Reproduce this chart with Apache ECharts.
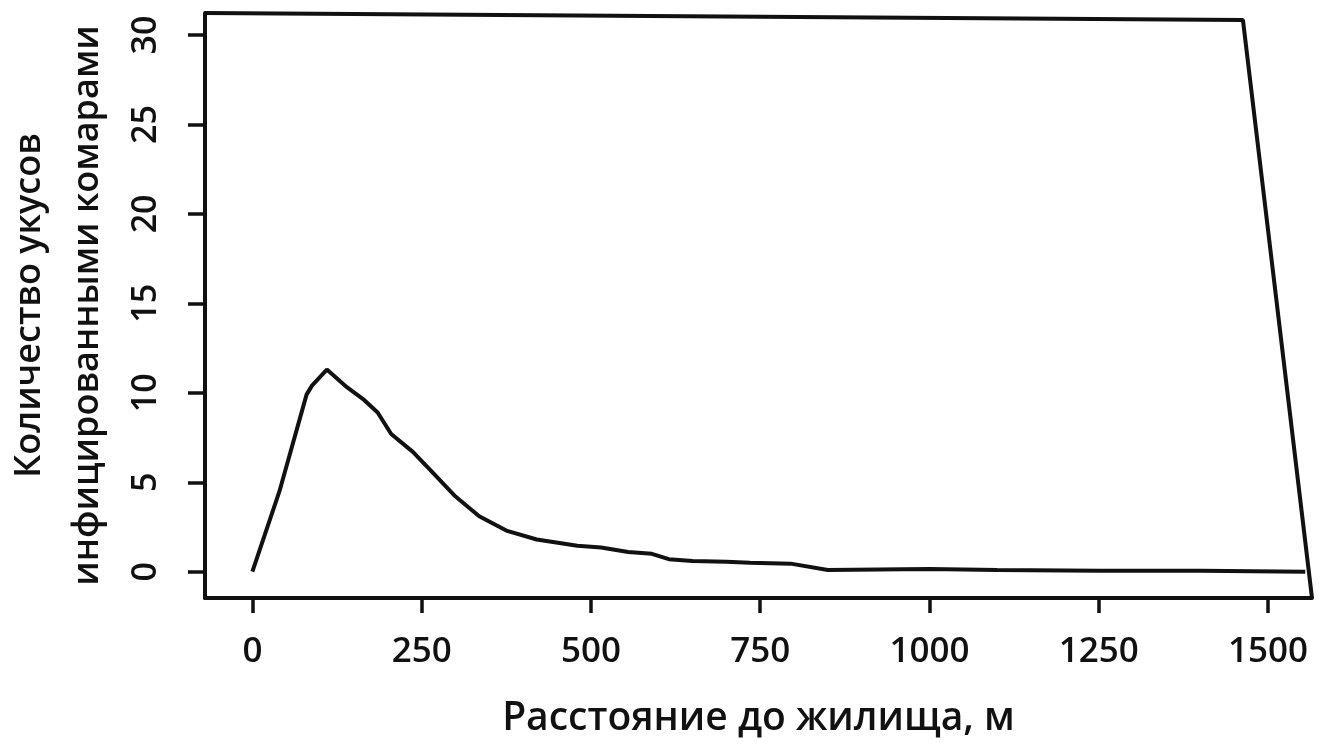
<!DOCTYPE html>
<html>
<head>
<meta charset="utf-8">
<script src="https://cdn.jsdelivr.net/npm/echarts@6/dist/echarts.min.js"></script>
<style>
  html, body { margin: 0; padding: 0; background: #fff; }
  #chart { width: 1330px; height: 748px; }
</style>
</head>
<body>
<div id="chart"></div>
<script>
// distance to dwelling, m
var distance = [0, 40, 80, 88, 110, 140, 165, 185, 205, 237, 265, 300, 335, 375, 420, 480,
    515, 555, 590, 615, 650, 700, 735, 795, 850, 1000, 1100, 1250, 1400, 1555];
// infective bites
var bites = [0, 4.5, 9.9, 10.4, 11.3, 10.3, 9.6, 8.9, 7.7, 6.7, 5.6, 4.2, 3.1, 2.3, 1.8, 1.45,
    1.35, 1.1, 1.0, 0.7, 0.6, 0.55, 0.5, 0.45, 0.1, 0.15, 0.1, 0.05, 0.05, 0];

var xTicks = [0, 250, 500, 750, 1000, 1250, 1500];
var yTicks = [0, 5, 10, 15, 20, 25, 30];

var xTitle = 'Расстояние до жилища, м';
var yTitle = 'Количество укусов\nинфицированными комарами';

var font = 'Open Sans';
var ink = '#111';

var xMin = -70, xMax = 1565;
var yMin = -1.47, yMax = 31.23;

var chartDom = document.getElementById('chart');
var myChart = echarts.init(chartDom);

var linePoints = [];
for (var i = 0; i < distance.length; i++) {
    linePoints.push([distance[i], bites[i]]);
}

// top and right edge of the box (the right one is drawn slanted in the original)
var framePoints = [[xMin, yMax], [1463, 30.84], [xMax, yMin]];

function plain(v) {
    return String(v);
}

var option = {
    animation: false,
    backgroundColor: '#fff',
    grid: {
        left: 205,
        right: 18,
        top: 13,
        bottom: 150,
        containLabel: false,
        outerBoundsMode: 'none'
    },
    xAxis: {
        type: 'value',
        min: xMin,
        max: xMax,
        name: xTitle,
        nameLocation: 'middle',
        nameGap: 101,
        nameTextStyle: { fontFamily: font, fontSize: 39, fontWeight: 600, color: ink },
        axisLine: { onZero: false, lineStyle: { color: ink, width: 4 } },
        axisTick: { customValues: xTicks, length: 15, lineStyle: { color: ink, width: 3.5 } },
        axisLabel: { customValues: xTicks, formatter: plain, fontFamily: font, fontSize: 35, fontWeight: 600, color: ink, margin: 37 },
        splitLine: { show: false }
    },
    yAxis: {
        type: 'value',
        min: yMin,
        max: yMax,
        name: yTitle,
        nameLocation: 'middle',
        nameRotate: 90,
        nameGap: 88,
        nameTextStyle: { fontFamily: font, fontSize: 36, fontWeight: 600, color: ink, lineHeight: 58 },
        axisLine: { onZero: false, lineStyle: { color: ink, width: 4 } },
        axisTick: { customValues: yTicks, length: 17, lineStyle: { color: ink, width: 3.5 } },
        axisLabel: { customValues: yTicks, formatter: plain, rotate: 90, fontFamily: font, fontSize: 34, fontWeight: 600, color: ink, margin: 42 },
        splitLine: { show: false }
    },
    series: [
        {
            name: 'bites',
            type: 'line',
            data: linePoints,
            showSymbol: false,
            lineStyle: { color: ink, width: 4 }
        },
        {
            name: 'frame',
            type: 'line',
            data: framePoints,
            showSymbol: false,
            clip: false,
            silent: true,
            lineStyle: { color: ink, width: 4 }
        }
    ]
};

option && myChart.setOption(option);
</script>
</body>
</html>
